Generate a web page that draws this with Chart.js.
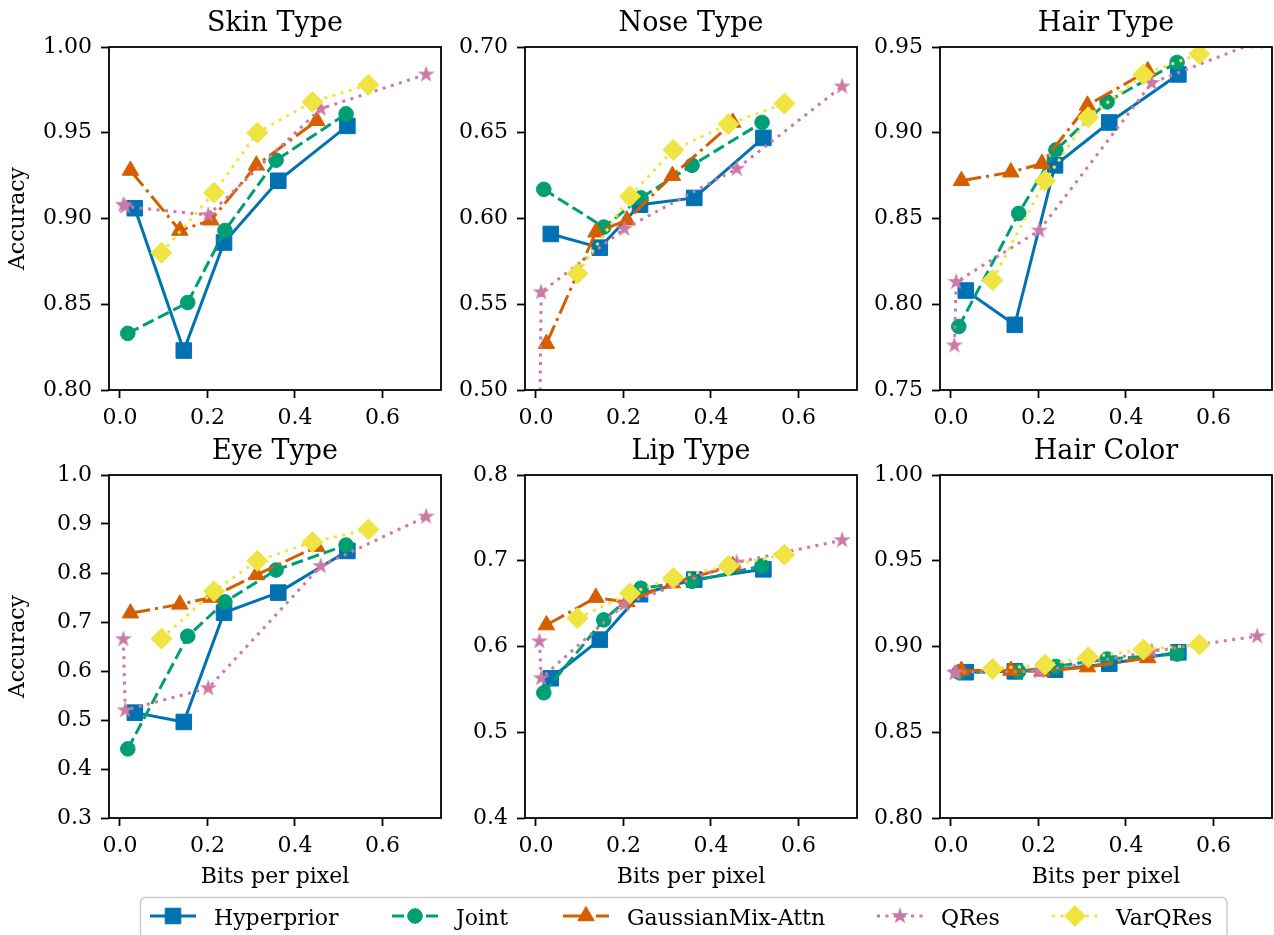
<!DOCTYPE html>
<html>
<head>
<meta charset="utf-8">
<script src="https://cdn.jsdelivr.net/npm/chart.js@4.4.1/dist/chart.umd.min.js"></script>
<style>
  body { margin: 0; background: #fff; }
  #fig { position: relative; width: 1274px; height: 935px; overflow: hidden; background: #fff; }
  #fig canvas { position: absolute; }
</style>
</head>
<body>
<div id="fig"></div>
<script>
// --- Data ---

// bits per pixel of every model (the same in all six panels)
const hyperBpp = [0.034, 0.146, 0.238, 0.362, 0.520];
const jointBpp = [0.018, 0.155, 0.240, 0.357, 0.517];
const gmaBpp   = [0.024, 0.137, 0.208, 0.312, 0.450];
const qresBpp  = [0.008, 0.012, 0.202, 0.459, 0.700];
const varBpp   = [0.095, 0.215, 0.314, 0.440, 0.568];

const modelNames = ['Hyperprior', 'Joint', 'GaussianMix-Attn', 'QRes', 'VarQRes'];
const panelTitles = ['Skin Type', 'Nose Type', 'Hair Type', 'Eye Type', 'Lip Type', 'Hair Color'];

// accuracy, one row per model in the order of modelNames
const skinAcc = [
    [0.906, 0.823, 0.886, 0.922, 0.954],
    [0.833, 0.851, 0.893, 0.934, 0.961],
    [0.928, 0.893, 0.899, 0.931, 0.957],
    [0.908, 0.907, 0.902, 0.964, 0.984],
    [0.880, 0.915, 0.950, 0.968, 0.978]
];
const noseAcc = [
    [0.591, 0.583, 0.608, 0.612, 0.647],
    [0.617, 0.595, 0.612, 0.631, 0.656],
    [0.527, 0.592, 0.599, 0.625, 0.656],
    [0.460, 0.557, 0.594, 0.629, 0.677],
    [0.568, 0.613, 0.640, 0.655, 0.667]
];
const hairAcc = [
    [0.808, 0.788, 0.881, 0.906, 0.934],
    [0.787, 0.853, 0.890, 0.918, 0.941],
    [0.872, 0.877, 0.882, 0.916, 0.936],
    [0.776, 0.813, 0.843, 0.929, 0.953],
    [0.814, 0.872, 0.909, 0.934, 0.946]
];
const eyeAcc = [
    [0.515, 0.496, 0.719, 0.760, 0.845],
    [0.441, 0.671, 0.741, 0.806, 0.857],
    [0.718, 0.736, 0.750, 0.796, 0.854],
    [0.665, 0.520, 0.565, 0.814, 0.915],
    [0.666, 0.763, 0.825, 0.863, 0.889]
];
const lipAcc = [
    [0.563, 0.608, 0.661, 0.678, 0.690],
    [0.546, 0.631, 0.668, 0.676, 0.694],
    [0.625, 0.657, 0.652, 0.674, 0.694],
    [0.606, 0.563, 0.649, 0.698, 0.724],
    [0.633, 0.662, 0.680, 0.694, 0.707]
];
const hairColorAcc = [
    [0.885, 0.8855, 0.8865, 0.890, 0.8966],
    [0.885, 0.8855, 0.8884, 0.8927, 0.8956],
    [0.886, 0.886, 0.8855, 0.888, 0.8933],
    [0.8846, 0.885, 0.8855, 0.8972, 0.906],
    [0.8869, 0.8894, 0.8937, 0.8982, 0.9011]
];

// tick labels
const xTicks = [0.0, 0.2, 0.4, 0.6];
const skinTicks = [0.80, 0.85, 0.90, 0.95, 1.00];
const noseTicks = [0.50, 0.55, 0.60, 0.65, 0.70];
const hairTicks = [0.75, 0.80, 0.85, 0.90, 0.95];
const eyeTicks = [0.3, 0.4, 0.5, 0.6, 0.7, 0.8, 0.9, 1.0];
const lipTicks = [0.4, 0.5, 0.6, 0.7, 0.8];
const hairColorTicks = [0.80, 0.85, 0.90, 0.95, 1.00];

const allBpp = [hyperBpp, jointBpp, gmaBpp, qresBpp, varBpp];
const allAcc = [skinAcc, noseAcc, hairAcc, eyeAcc, lipAcc, hairColorAcc];
const allTicks = [skinTicks, noseTicks, hairTicks, eyeTicks, lipTicks, hairColorTicks];


// --- Styles and layout ---

const FONT = "'DejaVu Serif', serif";
Chart.defaults.font.family = FONT;
Chart.defaults.color = '#000';

// filled 5 point star, like matplotlib's '*'
function makeStar(color, r) {
    let c = document.createElement('canvas');
    c.width = c.height = Math.ceil(r * 2 + 2);
    let g = c.getContext('2d');
    let cx = c.width / 2, cy = c.height / 2;
    g.beginPath();
    for (let k = 0; k < 10; k++) {
        let rr = k % 2 === 0 ? r : r * 0.382;
        let a = -Math.PI / 2 + k * Math.PI / 5;
        g.lineTo(cx + rr * Math.cos(a), cy + rr * Math.sin(a));
    }
    g.closePath();
    g.fillStyle = color;
    g.fill();
    return c;
}

const seriesStyle = [
    { color: '#0072B2', dash: [], marker: 'rect', radius: 11 },
    { color: '#009E73', dash: [12, 5], marker: 'circle', radius: 7.3 },
    { color: '#D55E00', dash: [20, 5, 3, 5], marker: 'triangle', radius: 9.5 },
    { color: '#CC79A7', dash: [3, 5.5], marker: makeStar('#CC79A7', 9), radius: 8 },
    { color: '#F0E442', dash: [3, 5.5], marker: 'rectRot', radius: 10.5 }
];

const colLeft = [109, 524.5, 940];
const rowTop = [47, 475];
const axesW = 332, axesH = 343;
const yAxisW = 105, titleH = 45;
const xMin = -0.025, xMax = 0.734;

// black box round each plot area
const framePlugin = {
    id: 'frame',
    afterDraw(chart) {
        let a = chart.chartArea;
        let ctx = chart.ctx;
        ctx.save();
        ctx.strokeStyle = '#000';
        ctx.lineWidth = 1.8;
        ctx.strokeRect(a.left, a.top, a.right - a.left, a.bottom - a.top);
        ctx.restore();
    }
};

let fig = document.getElementById('fig');

function makePanel(i) {
    let col = i % 3, row = Math.floor(i / 3);
    let xAxisH = row === 1 ? 72 : 40;
    let canvas = document.createElement('canvas');
    // same margin on both sides so the title sits over the middle of the plot
    canvas.width = yAxisW + axesW + yAxisW;
    canvas.height = titleH + axesH + xAxisH;
    canvas.style.left = (colLeft[col] - yAxisW) + 'px';
    canvas.style.top = (rowTop[row] - titleH) + 'px';
    fig.appendChild(canvas);

    let yTicks = allTicks[i];
    let decimals = (i === 3 || i === 4) ? 1 : 2;

    let datasets = seriesStyle.map((s, k) => ({
        label: modelNames[k],
        data: allBpp[k].map((x, j) => ({ x: x, y: allAcc[i][k][j] })),
        showLine: true,
        tension: 0,
        borderColor: s.color,
        backgroundColor: s.color,
        borderWidth: 3,
        borderDash: s.dash,
        pointStyle: s.marker,
        pointRadius: s.radius,
        pointHoverRadius: s.radius,
        pointBorderWidth: 1,
        pointBorderColor: s.color,
        pointBackgroundColor: s.color,
        order: 5 - k, // later models drawn on top
        clip: 0
    }));

    new Chart(canvas.getContext('2d'), {
        type: 'scatter',
        data: { datasets: datasets },
        options: {
            responsive: false,
            animation: false,
            events: [],
            layout: { padding: 0 },
            plugins: {
                legend: { display: false },
                tooltip: { enabled: false },
                title: {
                    display: true,
                    text: panelTitles[i],
                    font: { size: 27, weight: 'normal', family: FONT },
                    color: '#000',
                    padding: { top: 6.1, bottom: 6.5 }
                }
            },
            scales: {
                x: {
                    type: 'linear',
                    min: xMin,
                    max: xMax,
                    afterFit: scale => { scale.height = xAxisH; },
                    afterBuildTicks: scale => { scale.ticks = xTicks.map(v => ({ value: v })); },
                    ticks: {
                        autoSkip: false,
                        maxRotation: 0,
                        padding: 7,
                        font: { size: 22, family: FONT },
                        color: '#000',
                        callback: v => v.toFixed(1)
                    },
                    grid: { display: true, drawOnChartArea: false, tickLength: 8, tickWidth: 1.8, tickColor: '#000' },
                    border: { display: false },
                    title: {
                        display: row === 1,
                        text: 'Bits per pixel',
                        font: { size: 22, family: FONT },
                        color: '#000',
                        padding: { top: 0, bottom: 0 }
                    }
                },
                y: {
                    type: 'linear',
                    min: yTicks[0],
                    max: yTicks[yTicks.length - 1],
                    afterFit: scale => { scale.width = yAxisW; },
                    afterBuildTicks: scale => { scale.ticks = yTicks.map(v => ({ value: v })); },
                    ticks: {
                        autoSkip: false,
                        padding: 9,
                        font: { size: 22, family: FONT },
                        color: '#000',
                        callback: v => v.toFixed(decimals)
                    },
                    grid: { display: true, drawOnChartArea: false, tickLength: 8, tickWidth: 1.8, tickColor: '#000' },
                    border: { display: false },
                    title: {
                        display: col === 0,
                        text: 'Accuracy',
                        font: { size: 22, family: FONT },
                        color: '#000',
                        padding: { top: 1, bottom: 0 }
                    }
                },
                // empty spacer on the right, mirrors the left axis width
                ySpacer: {
                    type: 'linear',
                    position: 'right',
                    display: true,
                    afterFit: scale => { scale.width = yAxisW; },
                    ticks: { display: false },
                    grid: { display: false },
                    border: { display: false }
                }
            }
        },
        plugins: [framePlugin]
    });
}

for (let i = 0; i < 6; i++) makePanel(i);


// --- Legend along the bottom ---

const legendTop = 880;
const legendCenters = [173, 415, 586, 900, 1075];

const legendPlugin = {
    id: 'bottomLegend',
    afterDraw(chart) {
        let ctx = chart.ctx;
        let y = 916 - legendTop;
        ctx.save();
        // frame
        ctx.beginPath();
        ctx.roundRect(140.5, 897.5 - legendTop, 1086.5, 60, 5);
        ctx.fillStyle = 'rgba(255,255,255,0.8)';
        ctx.fill();
        ctx.strokeStyle = '#cccccc';
        ctx.lineWidth = 1.5;
        ctx.stroke();

        chart.data.datasets.forEach((ds, k) => {
            let s = seriesStyle[k];
            let cx = legendCenters[k];
            ctx.save();
            ctx.beginPath();
            ctx.setLineDash(s.dash);
            ctx.strokeStyle = s.color;
            ctx.lineWidth = 3;
            ctx.moveTo(cx - 23, y);
            ctx.lineTo(cx + 23, y);
            ctx.stroke();
            ctx.restore();

            ctx.fillStyle = s.color;
            ctx.strokeStyle = s.color;
            ctx.lineWidth = 1;
            Chart.helpers.drawPoint(ctx, { pointStyle: s.marker, radius: s.radius, rotation: 0, borderWidth: 1 }, cx, y);

            ctx.fillStyle = '#000';
            ctx.font = '22px ' + FONT;
            ctx.textBaseline = 'alphabetic';
            ctx.textAlign = 'left';
            ctx.fillText(ds.label, cx + 41, 925 - legendTop);
        });
        ctx.restore();
    }
};

let legendCanvas = document.createElement('canvas');
legendCanvas.width = 1274;
legendCanvas.height = 55;
legendCanvas.style.left = '0px';
legendCanvas.style.top = legendTop + 'px';
fig.appendChild(legendCanvas);

new Chart(legendCanvas.getContext('2d'), {
    type: 'scatter',
    data: { datasets: modelNames.map(n => ({ label: n, data: [] })) },
    options: {
        responsive: false,
        animation: false,
        events: [],
        plugins: { legend: { display: false }, tooltip: { enabled: false } },
        scales: { x: { display: false }, y: { display: false } }
    },
    plugins: [legendPlugin]
});
</script>
</body>
</html>
